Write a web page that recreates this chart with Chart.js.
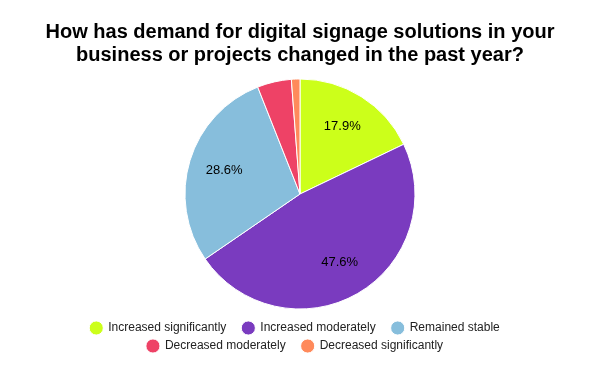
<!DOCTYPE html>
<html lang="en">
<head>
    <meta charset="UTF-8">
    <title>Digital signage demand</title>
    <script src="https://cdn.jsdelivr.net/npm/chart.js"></script>
    <style>
        html, body { margin: 0; padding: 0; background: #fff; }
        .container { width: 600px; height: 371px; }
    </style>
</head>
<body>
    <div class="container">
        <canvas id="pieChart" width="600" height="371"></canvas>
    </div>
    <script>
        // data (shares in percent)
        const categories = ['Increased significantly', 'Increased moderately', 'Remained stable', 'Decreased moderately', 'Decreased significantly'];
        const shares = [17.9, 47.6, 28.6, 4.8, 1.2];
        const colors = ['#ccff1a', '#7a3bbf', '#87bedc', '#ee4266', '#ff8a5b'];

        const FONT = '"Liberation Sans", Arial, sans-serif';

        // percentages drawn inside the bigger slices
        const sliceLabels = {
            id: 'sliceLabels',
            afterDatasetsDraw(chart) {
                const ctx = chart.ctx;
                const meta = chart.getDatasetMeta(0);
                ctx.save();
                ctx.font = '13px ' + FONT;
                ctx.fillStyle = '#000';
                ctx.textAlign = 'center';
                ctx.textBaseline = 'middle';
                meta.data.forEach((arc, i) => {
                    if (shares[i] < 5) return;
                    const p = arc.getProps(['x', 'y', 'startAngle', 'endAngle', 'outerRadius']);
                    const mid = (p.startAngle + p.endAngle) / 2;
                    const r = p.outerRadius * 0.69;
                    ctx.fillText(shares[i].toFixed(1) + '%', p.x + Math.cos(mid) * r, p.y + Math.sin(mid) * r);
                });
                ctx.restore();
            }
        };

        new Chart(document.getElementById('pieChart'), {
            type: 'pie',
            data: {
                labels: categories,
                datasets: [{
                    data: shares,
                    backgroundColor: colors,
                    borderColor: '#fff',
                    borderWidth: 1,
                    radius: 115
                }]
            },
            options: {
                responsive: false,
                animation: false,
                layout: { padding: { top: 6, bottom: 9, left: 30, right: 30 } },
                plugins: {
                    title: {
                        display: true,
                        text: ['How has demand for digital signage solutions in your', 'business or projects changed in the past year?'],
                        color: '#000',
                        font: { family: FONT, size: 20, weight: 'bold', lineHeight: 1.15 },
                        padding: { top: 15, bottom: 5 }
                    },
                    legend: {
                        position: 'bottom',
                        labels: {
                            usePointStyle: true,
                            pointStyle: 'circle',
                            boxWidth: 16,
                            boxHeight: 10,
                            padding: 6,
                            color: '#222',
                            font: { family: FONT, size: 12 },
                            generateLabels(chart) {
                                // a little extra room after each label, as in the original
                                return Chart.overrides.pie.plugins.legend.labels.generateLabels(chart)
                                    .map(item => Object.assign(item, { text: item.text + '   ' }));
                            }
                        }
                    },
                    tooltip: { enabled: false }
                }
            },
            plugins: [sliceLabels]
        });
    </script>
</body>
</html>
